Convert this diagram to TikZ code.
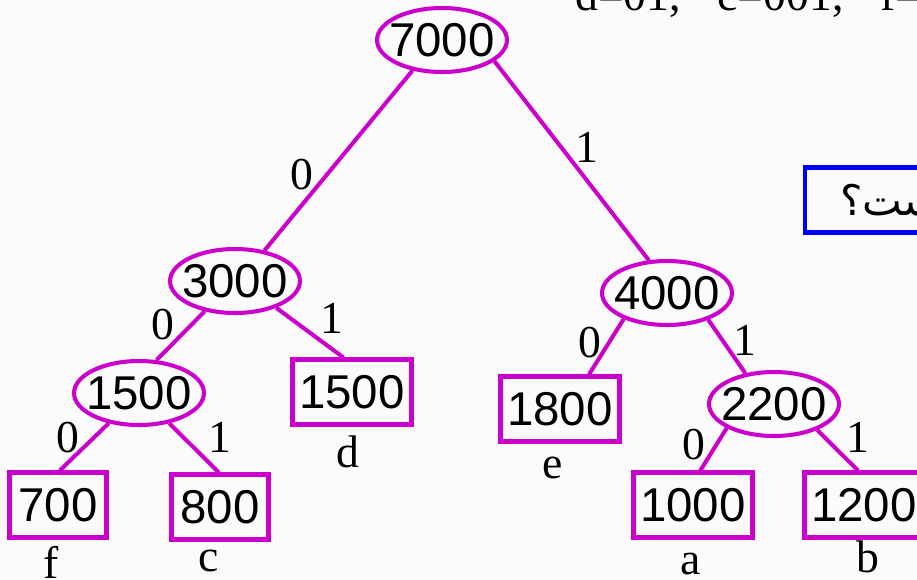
\documentclass[tikz,border=0pt]{standalone}
\usepackage{fontspec}
\setmainfont{Liberation Serif}
\newfontfamily\numfont{Liberation Sans}
\newfontfamily\arabicfont[Script=Arabic]{DejaVu Sans}
\TeXXeTstate=1
\usetikzlibrary{shapes.geometric}
\usepackage{xcolor}
\definecolor{treemag}{RGB}{204,0,204}
\definecolor{paper}{RGB}{251,251,251}
\newcommand{\wt}[1]{\makebox[0pt]{#1}}

\begin{document}
\begin{tikzpicture}[x=0.02cm, y=-0.02cm,
    inner/.style={ellipse, draw=treemag, line width=2.3pt, minimum width=2.6cm, minimum height=1.28cm, inner sep=0pt, font=\numfont\fontsize{27}{31}\selectfont},
    leaf/.style={rectangle, draw=treemag, line width=2.3pt, minimum width=2.38cm, minimum height=1.3cm, inner sep=0pt, font=\numfont\fontsize{27}{31}\selectfont},
    bit/.style={inner sep=0pt, font=\fontsize{26}{30}\selectfont},
    sym/.style={anchor=base, inner sep=0pt, font=\fontsize{26}{30}\selectfont},
    branch/.style={draw=treemag, line width=2.3pt}]
    \path[use as bounding box, fill=paper] (0,0) rectangle (917,579);

    % Define the tree nodes
    \node[inner] (n7000) at (442,40) {\wt{7000}};
    \node[inner] (n3000) at (235,281) {\wt{3000}};
    \node[inner] (n4000) at (667,293) {\wt{4000}};
    \node[inner] (n1500) at (139,393) {\wt{1500}};
    \node[inner] (n2200) at (774,404) {\wt{2200}};
    \node[leaf] (n1500d) at (352,392) {1500};
    \node[leaf] (n1800) at (560,409) {1800};
    \node[leaf, minimum width=1.94cm] (n700) at (58,505) {700};
    \node[leaf, minimum width=1.94cm] (n800) at (220,507) {800};
    \node[leaf] (n1000) at (693,505) {1000};
    \node[leaf] (n1200) at (864,505) {1200};

    % Branches
    \draw[branch] (n7000.226) -- (n3000.46);
    \draw[branch] (n7000.338) -- (n4000.119);
    \draw[branch] (n3000.225) -- (n1500.62);
    \draw[branch] (n3000.327) -- (n1500d.104);
    \draw[branch] (n1500.225) -- (n700.87);
    \draw[branch] (n1500.315) -- (n800.92);
    \draw[branch] (n4000.211) -- (n1800.50);
    \draw[branch] (n4000.327) -- (n2200.133);
    \draw[branch] (n2200.207) -- (n1000.78);
    \draw[branch] (n2200.329) -- (n1200.100);

    % Branch bits
    \node[bit] (b1) at (302,175) {0};
    \node[bit] (b2) at (587,147) {1};
    \node[bit] (b3) at (163,325) {0};
    \node[bit] (b4) at (332,318) {1};
    \node[bit] (b5) at (68,438) {0};
    \node[bit] (b6) at (220,437) {1};
    \node[bit] (b7) at (590,343) {0};
    \node[bit] (b8) at (745,340) {1};
    \node[bit] (b9) at (694,445) {0};
    \node[bit] (b10) at (858,437) {1};

    % Symbols under the leaves
    \node[sym] (sf) at (51,578) {f};
    \node[sym] (sc) at (209,571) {c};
    \node[sym] (sd) at (348,467) {d};
    \node[sym] (se) at (553,478) {e};
    \node[sym] (sa) at (691,574) {a};
    \node[sym] (sb) at (868,572) {b};

    % Cut-off codes and question
    \node[anchor=base west, inner sep=0pt, font=\fontsize{26}{30}\selectfont] (codes) at (575,10) {d=01,\hspace{0.8em}c=001,\hspace{0.8em}f=000};
    \node[draw=blue, line width=2.3pt, anchor=west, minimum height=1.3cm, inner xsep=0.7cm, inner ysep=0pt, font=\arabicfont\fontsize{24}{28}\selectfont] (question) at (803,200) {{\beginR ست؟\endR}\hspace*{3cm}};
\end{tikzpicture}
\end{document}
